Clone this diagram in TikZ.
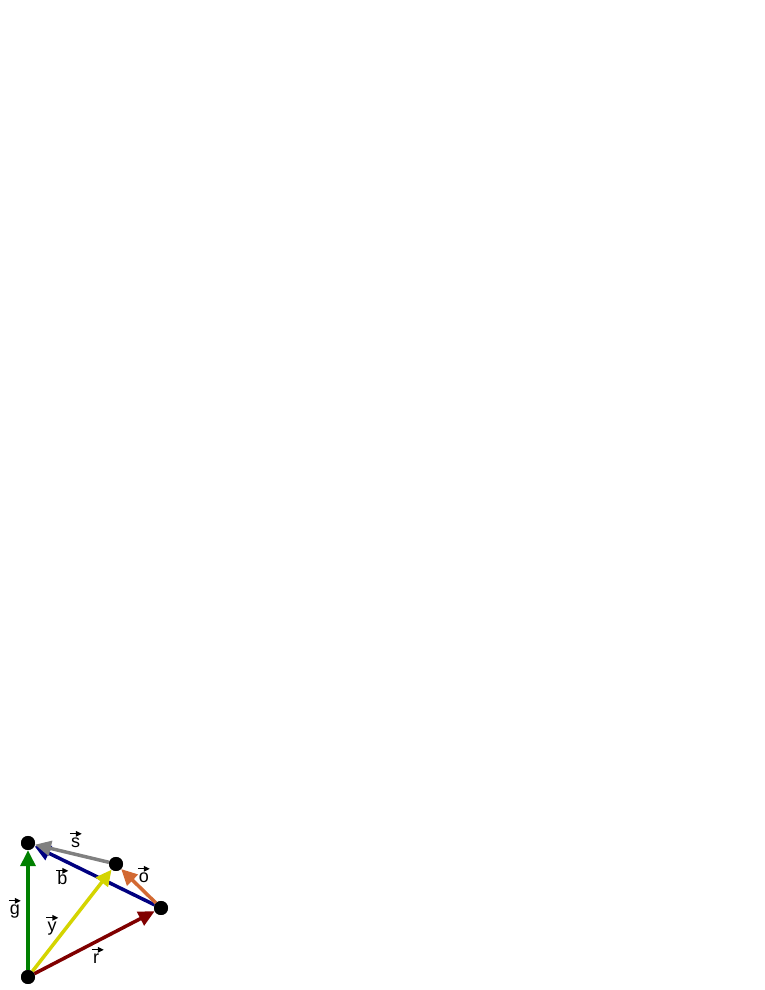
\documentclass[tikz,border=0pt]{standalone}
\usepackage{fontspec}
\setmainfont{Liberation Sans}
\usetikzlibrary{arrows.meta}

\definecolor{vgreen}{RGB}{0,128,0}
\definecolor{vyellow}{RGB}{212,212,0}
\definecolor{vred}{RGB}{128,0,0}
\definecolor{vorange}{RGB}{210,105,50}
\definecolor{vnavy}{RGB}{0,0,128}
\definecolor{vgray}{RGB}{128,128,128}

\begin{document}
\begin{tikzpicture}[x=1pt,y=1pt,
	dot/.style={circle,fill=black,inner sep=0pt,minimum size=14pt},
	vec/.style={line width=3.5pt,-{Triangle[length=16pt,width=15pt]}},
	lab/.style={anchor=base,inner sep=0pt,text height=14pt,text depth=0pt,font=\fontsize{18}{20}\selectfont}]
\useasboundingbox (0,0) rectangle (765,990);
\coordinate (pA) at (28,13);
\coordinate (pB) at (28,147);
\coordinate (pC) at (116,126);
\coordinate (pD) at (161,82);
\node[dot] (A) at (pA) {}; \node[dot] (B) at (pB) {}; \node[dot] (C) at (pC) {}; \node[dot] (D) at (pD) {};
% vectors
\draw[vec,vnavy] (D) -- (B);
\draw[vec,vgray] (C) -- (B);
\draw[vec,vgreen] (A) -- (B);
\draw[vec,vyellow] (A) -- (C);
\draw[vec,vred] (A) -- (D);
\draw[vec,vorange] (D) -- (C);
\node[dot] at (pA) {}; \node[dot] at (pB) {}; \node[dot] at (pC) {}; \node[dot] at (pD) {};
% labels
\node[lab] (ls) at (75.5,142) {s};
\node[lab] (lb) at (62.5,105) {b};
\node[lab] (lo) at (144,107) {o};
\node[lab] (lg) at (15,75) {g};
\node[lab] (ly) at (52,58) {y};
\node[lab] (lr) at (96,26) {r};
\foreach \l in {ls,lb,lo,lg,ly,lr} {
	\draw[line width=1.4pt,-{Triangle[length=6pt,width=5.5pt]}] ([xshift=-1pt]\l.north west) -- ++(12pt,0);
}
\end{tikzpicture}
\end{document}
